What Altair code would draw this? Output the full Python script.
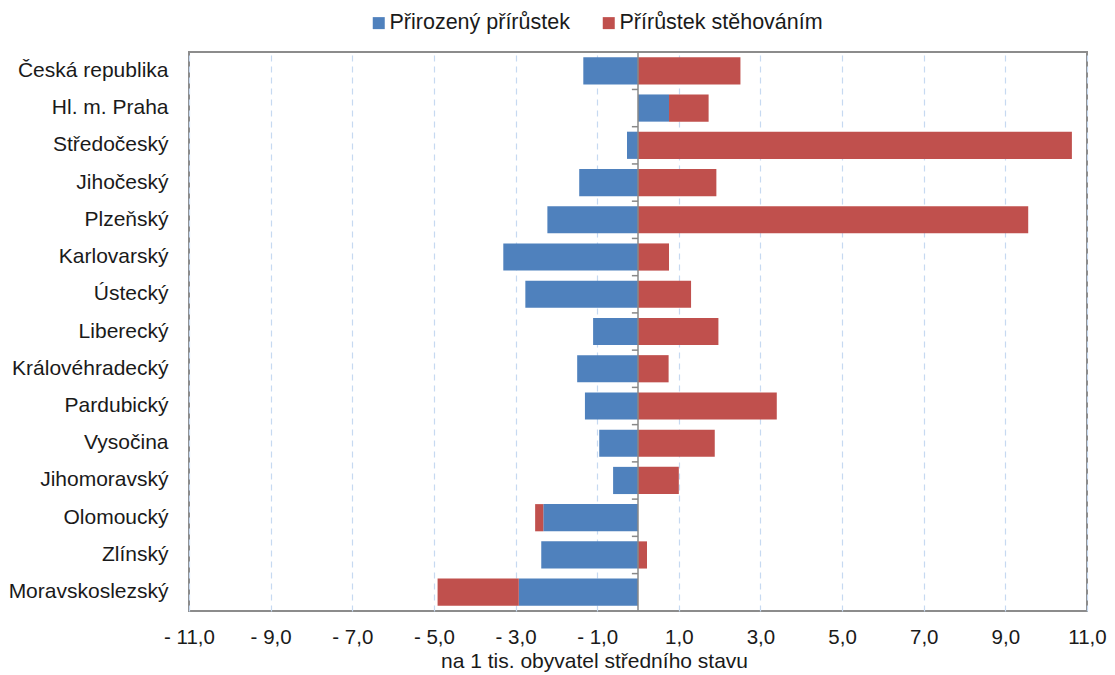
import altair as alt
import pandas as pd

regions = ["Česká republika", "Hl. m. Praha", "Středočeský", "Jihočeský", "Plzeňský",
           "Karlovarský", "Ústecký", "Liberecký", "Královéhradecký", "Pardubický",
           "Vysočina", "Jihomoravský", "Olomoucký", "Zlínský", "Moravskoslezský"]
natural = [-1.34, 0.76, -0.27, -1.44, -2.22, -3.30, -2.76, -1.10, -1.49, -1.30,
           -0.95, -0.61, -2.32, -2.37, -2.92]
migration = [2.51, 0.97, 10.63, 1.92, 9.56, 0.76, 1.30, 1.97, 0.75, 3.40,
             1.88, 1.00, -0.20, 0.22, -1.99]
series = ["Přirozený přírůstek", "Přírůstek stěhováním"]
colors = ["#4F81BD", "#C0504D"]
ticks = [-11, -9, -7, -5, -3, -1, 1, 3, 5, 7, 9, 11]

rows = []
for r, n, m in zip(regions, natural, migration):
    rows.append({"region": r, "series": series[0], "value": n, "ord": 0})
    rows.append({"region": r, "series": series[1], "value": m, "ord": 1})
df = pd.DataFrame(rows)

font = "Liberation Sans"
txt = "#1a1a1a"
label_expr = ("datum.value < 0 ? '- ' + replace(format(abs(datum.value), '.1f'), '.', ',') "
              ": replace(format(datum.value, '.1f'), '.', ',')")

yscale = alt.Scale(domain=regions, paddingInner=0.27, paddingOuter=0.14)

bars = alt.Chart(df).mark_bar().encode(
    y=alt.Y("region:N", sort=regions, title=None, scale=yscale,
            axis=alt.Axis(ticks=False, domain=False, labelFontSize=21, labelFont=font,
                          labelColor=txt, labelPadding=21, labelLimit=0, grid=False)),
    x=alt.X("value:Q", stack="zero", title="na 1 tis. obyvatel středního stavu",
            scale=alt.Scale(domain=[-11, 11], nice=False),
            axis=alt.Axis(values=ticks, labelExpr=label_expr, ticks=False, domain=False,
                          labelFontSize=20.5, labelFont=font, labelColor=txt,
                          labelPadding=16, labelFlush=False, labelOverlap=False,
                          titleFontSize=21, titleFont=font,
                          titleFontWeight="normal", titleColor=txt,
                          titleX=405, titleY=56, titleAlign="center",
                          titleBaseline="alphabetic",
                          grid=True, gridDash=[6, 5], gridColor="#C6D9F1", gridWidth=1.2)),
    color=alt.Color("series:N", sort=series,
                    scale=alt.Scale(domain=series, range=colors),
                    legend=alt.Legend(title=None, orient="none", direction="horizontal",
                                      legendX=179, legendY=-40, labelFontSize=21.5,
                                      labelFont=font, labelColor=txt, labelLimit=0,
                                      symbolType="square", symbolSize=144,
                                      symbolStrokeWidth=0, columnPadding=28, labelOffset=0)),
    order=alt.Order("ord:Q"),
)

zero = alt.Chart(pd.DataFrame({"x": [0]})).mark_rule(color="#888888", strokeWidth=1.5).encode(
    x="x:Q")

tick_df = pd.DataFrame({"region": regions[1:], "x0": [-0.15] * 14, "x1": [0.0] * 14})
cat_ticks = alt.Chart(tick_df).mark_rule(color="#888888", strokeWidth=1.5).encode(
    y=alt.Y("region:N", sort=regions, bandPosition=0, scale=yscale),
    yOffset=alt.value(-5),
    x="x0:Q", x2="x1:Q",
)

chart = alt.layer(bars, zero, cat_ticks).properties(
    width=898, height=559,
    autosize=alt.AutoSizeParams(type="none"),
    padding={"left": 181, "top": 44, "right": 20, "bottom": 64},
).configure_view(stroke="#8c8c8c", strokeWidth=2)

chart.save("out.html", embed_options={"renderer": "svg", "actions": False})
